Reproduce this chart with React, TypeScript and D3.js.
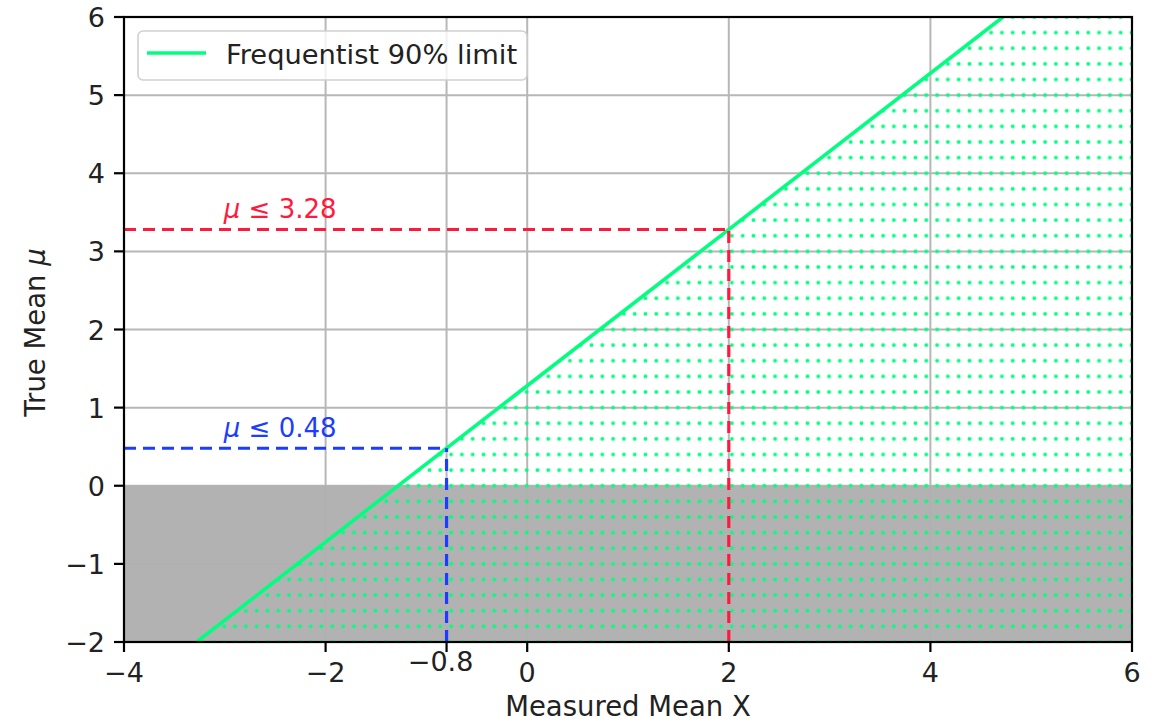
import React from "react";
import * as d3 from "d3";

const xDomain = [-4, 6];
const yDomain = [-2, 6];
const xTicks = [-4, -2, -0.8, 0, 2, 4, 6];
const yTicks = [-2, -1, 0, 1, 2, 3, 4, 5, 6];
const gridX = [-4, -2, -0.8, 0, 2, 4, 6];
const gridY = [-2, -1, 0, 1, 2, 3, 4, 5, 6];
// Frequentist 90% limit line endpoints (measured mean x, true mean mu)
const limitX = [-3.28, 4.72];
const limitMu = [-2, 6];
// Highlighted limits
const limitLabels = ["μ ≤ 3.28", "μ ≤ 0.48"];
const limitXs = [2, -0.8];
const limitMus = [3.28, 0.48];
const limitColors = ["#ff1a3d", "#1a3dff"];
const unphysicalBand = [-2, 0];

const W = 1158;
const H = 722;
const FONT = "'DejaVu Sans', sans-serif";

export default function App() {
  const x = d3.scaleLinear().domain(xDomain).range([124, 1132]);
  const y = d3.scaleLinear().domain(yDomain).range([642, 17]);
  const fmt = (v: number) => (v < 0 ? "\u2212" + String(Math.abs(v)) : String(v));

  const hatchPoly: [number, number][] = [
    [limitX[0], limitMu[0]],
    [limitX[1], limitMu[1]],
    [xDomain[1], yDomain[1]],
    [xDomain[1], yDomain[0]],
  ];
  const polyPath = d3.line<[number, number]>()
    .x((d) => x(d[0]))
    .y((d) => y(d[1]))(hatchPoly) + "Z";
  const limitPath = d3.line<number>()
    .x((d) => x(d))
    .y((_, i) => y(limitMu[i]))(limitX) as string;

  const dx = 10.8;
  const dy = (y(0) - y(1)) / 5;
  const ds = 3.6;

  return (
    <svg width={W} height={H} style={{ position: "fixed", left: 0, top: 0, background: "#fff" }} fontFamily={FONT}>
      <defs>
        <pattern id="dots" patternUnits="userSpaceOnUse" width={dx} height={dy} x={742.7 - dx / 2} y={y(0) - dy / 2}>
          <rect x={dx / 2 - ds / 2} y={dy / 2 - ds / 2} width={ds} height={ds} rx={1.2} fill="#00ff7f" />
        </pattern>
        <clipPath id="plotClip">
          <rect x={x(xDomain[0])} y={y(yDomain[1])} width={x(xDomain[1]) - x(xDomain[0])} height={y(yDomain[0]) - y(yDomain[1])} />
        </clipPath>
      </defs>
      <rect x={0} y={0} width={W} height={H} fill="#fff" />
      {/* unphysical region */}
      <rect
        x={x(xDomain[0])}
        y={y(unphysicalBand[1])}
        width={x(xDomain[1]) - x(xDomain[0])}
        height={y(unphysicalBand[0]) - y(unphysicalBand[1])}
        fill="#b2b2b2"
      />
      {/* grid */}
      <g stroke="#b0b0b0" strokeWidth={2} opacity={0.9}>
        {gridX.map((v) => (
          <line key={"gx" + v} x1={x(v)} x2={x(v)} y1={y(yDomain[0])} y2={y(yDomain[1])} />
        ))}
        {gridY.map((v) => (
          <line key={"gy" + v} x1={x(xDomain[0])} x2={x(xDomain[1])} y1={y(v)} y2={y(v)} />
        ))}
      </g>
      {/* hatch */}
      <path d={polyPath} fill="url(#dots)" stroke="none" clipPath="url(#plotClip)" />
      {/* limit line */}
      <path d={limitPath} fill="none" stroke="#00ff7f" strokeWidth={3.6} clipPath="url(#plotClip)" />
      {/* dashed limits */}
      {limitXs.map((lx, i) => (
        <g key={"lim" + i} stroke={limitColors[i]} strokeWidth={3.2} strokeDasharray="12,7" fill="none">
          <line x1={x(xDomain[0])} x2={x(lx)} y1={y(limitMus[i])} y2={y(limitMus[i])} />
          <line x1={x(lx)} x2={x(lx)} y1={y(yDomain[0])} y2={y(limitMus[i])} />
        </g>
      ))}
      {limitXs.map((lx, i) => (
        <text key={"lt" + i} x={x(-3) - 1} y={y(limitMus[i] + 0.15)} fill={limitColors[i]} fontSize={26}>
          <tspan fontStyle="italic">{limitLabels[i].slice(0, 1)}</tspan>
          <tspan>{limitLabels[i].slice(1)}</tspan>
        </text>
      ))}
      {/* spines */}
      <rect
        x={x(xDomain[0])}
        y={y(yDomain[1])}
        width={x(xDomain[1]) - x(xDomain[0])}
        height={y(yDomain[0]) - y(yDomain[1])}
        fill="none"
        stroke="#000"
        strokeWidth={2.2}
      />
      {/* x ticks */}
      {xTicks.map((v) => (
        <g key={"xt" + v}>
          <line x1={x(v)} x2={x(v)} y1={y(yDomain[0])} y2={y(yDomain[0]) + 10} stroke="#000" strokeWidth={2.2} />
          <text x={x(v) + (v === -0.8 ? -6 : 0)} y={v === -0.8 ? 671 : 682} textAnchor="middle" fontSize={27} fill="#222">
            {fmt(v)}
          </text>
        </g>
      ))}
      {/* y ticks */}
      {yTicks.map((v) => (
        <g key={"yt" + v}>
          <line x1={x(xDomain[0]) - 10} x2={x(xDomain[0])} y1={y(v)} y2={y(v)} stroke="#000" strokeWidth={2.2} />
          <text x={105} y={y(v) + 10} textAnchor="end" fontSize={27} fill="#222">
            {fmt(v)}
          </text>
        </g>
      ))}
      {/* axis labels */}
      <text x={(x(xDomain[0]) + x(xDomain[1])) / 2} y={716} textAnchor="middle" fontSize={27.5} fill="#222">
        Measured Mean X
      </text>
      <text transform={`translate(45,${(y(yDomain[0]) + y(yDomain[1])) / 2 + 3}) rotate(-90)`} textAnchor="middle" fontSize={27.5} fill="#222">
        True Mean <tspan fontStyle="italic">μ</tspan>
      </text>
      {/* legend */}
      <g>
        <rect x={138} y={31} width={389} height={49} rx={5} fill="#fff" fillOpacity={0.8} stroke="#d0d0d0" strokeWidth={1.6} />
        <line x1={147} x2={206} y1={53} y2={53} stroke="#00ff7f" strokeWidth={3.6} />
        <text x={226} y={64} fontSize={27.3} fill="#222">Frequentist 90% limit</text>
      </g>
    </svg>
  );
}
